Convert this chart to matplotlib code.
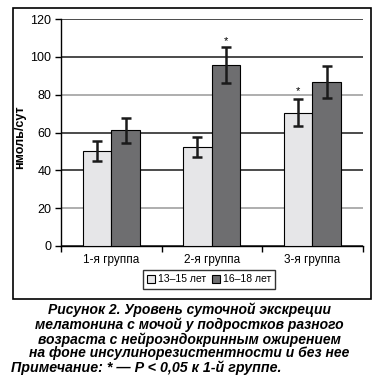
import matplotlib
matplotlib.use("Agg")
import matplotlib.pyplot as plt
import numpy as np
from matplotlib.patches import Rectangle

groups = ["1-я группа", "2-я группа", "3-я группа"]
series_names = ["13–15 лет", "16–18 лет"]
vals_young = [50.3, 52.5, 70.5]
vals_old = [61.2, 95.6, 86.6]
err_young = [5.2, 5.3, 7.0]
err_old = [6.5, 9.5, 8.5]
stars_young = [False, False, True]
stars_old = [False, True, False]
yticks = [0, 20, 40, 60, 80, 100, 120]
ylabel = "нмоль/сут"
caption_lines = ["Рисунок 2. Уровень суточной экскреции",
                 "мелатонина с мочой у подростков разного",
                 "возраста с нейроэндокринным ожирением",
                 "на фоне инсулинорезистентности и без нее"]
note = "Примечание: * — P < 0,05 к 1-й группе."

plt.rcParams['font.family'] = ['Liberation Sans', 'DejaVu Sans']

fig = plt.figure(figsize=(3.76, 3.76), dpi=100)
ax = fig.add_axes([61/376, 1-246/376, (362.5-61)/376, (246-19)/376])

x = np.arange(len(groups))
w = 0.285
c_light = '#e6e6e8'
c_dark = '#6e6e70'
b1 = ax.bar(x - w/2, vals_young, w, color=c_light, edgecolor='black', linewidth=0.8, zorder=3, label=series_names[0])
b2 = ax.bar(x + w/2, vals_old, w, color=c_dark, edgecolor='black', linewidth=0.8, zorder=3, label=series_names[1])
ax.errorbar(x - w/2, vals_young, yerr=err_young, fmt='none', ecolor='#1a1a1a', elinewidth=1.8, capsize=3.5, capthick=1.8, zorder=4)
ax.errorbar(x + w/2, vals_old, yerr=err_old, fmt='none', ecolor='#1a1a1a', elinewidth=1.8, capsize=3.5, capthick=1.8, zorder=4)
for i in range(len(groups)):
    if stars_young[i]:
        ax.text(x[i] - w/2, vals_young[i] + err_young[i] + 2, "*", ha='center', va='bottom', fontsize=8)
    if stars_old[i]:
        ax.text(x[i] + w/2, vals_old[i] + err_old[i] + 0.5, "*", ha='center', va='bottom', fontsize=8)

ax.set_xlim(-0.5, 2.5)
ax.set_ylim(0, 120)
ax.set_yticks(yticks)
ax.set_yticklabels([str(v) for v in yticks], fontsize=9)
ax.set_xticks(x)
ax.set_xticklabels(groups, fontsize=8.5)
ax.tick_params(axis='x', length=0, pad=6)
ax.set_xticks([-0.5, 0.5, 1.5, 2.5], minor=True)
ax.tick_params(axis='x', which='minor', length=4, width=1, direction='out')
ax.tick_params(axis='y', length=4, width=1, direction='out', pad=3)
ax.set_ylabel(ylabel, fontsize=9, fontweight='bold')
ax.yaxis.set_label_coords((26.5-61)/301.5, (246-137.5)/227)

ax.yaxis.grid(True, zorder=0)
ax.set_axisbelow(True)
for i, gl in enumerate(ax.get_ygridlines()):
    v = yticks[i]
    gl.set_color('#999999' if v in (20, 80) else '#1a1a1a')
    gl.set_linewidth(1.1)
ax.spines['right'].set_visible(False)
ax.spines['top'].set_visible(False)
ax.spines['left'].set_linewidth(1)
ax.spines['bottom'].set_linewidth(1)

leg = fig.legend(handles=[b1, b2], labels=series_names, loc='center', bbox_to_anchor=(209/376, 1-279.5/376),
                 ncol=2, fontsize=7.5, frameon=True, fancybox=False, edgecolor='black',
                 handlelength=0.8, handleheight=0.8, handletextpad=0.3, columnspacing=0.5,
                 borderpad=0.4)
leg.get_frame().set_linewidth(1)

fig.patches.append(Rectangle((12.5/376, 1-299/376), (371-12.5)/376, (299-8)/376,
                             transform=fig.transFigure, fill=False, edgecolor='black', linewidth=1.2))

ys = [310, 325, 339.5, 353.5]
for line, yy in zip(caption_lines, ys):
    fig.text(189/376, 1-yy/376, line, ha='center', va='center', fontsize=10,
             fontweight='bold', fontstyle='italic')
fig.text(11/376, 1-368/376, note, ha='left', va='center', fontsize=10.3,
         fontweight='bold', fontstyle='italic')

fig.savefig("out.png", dpi=100)
